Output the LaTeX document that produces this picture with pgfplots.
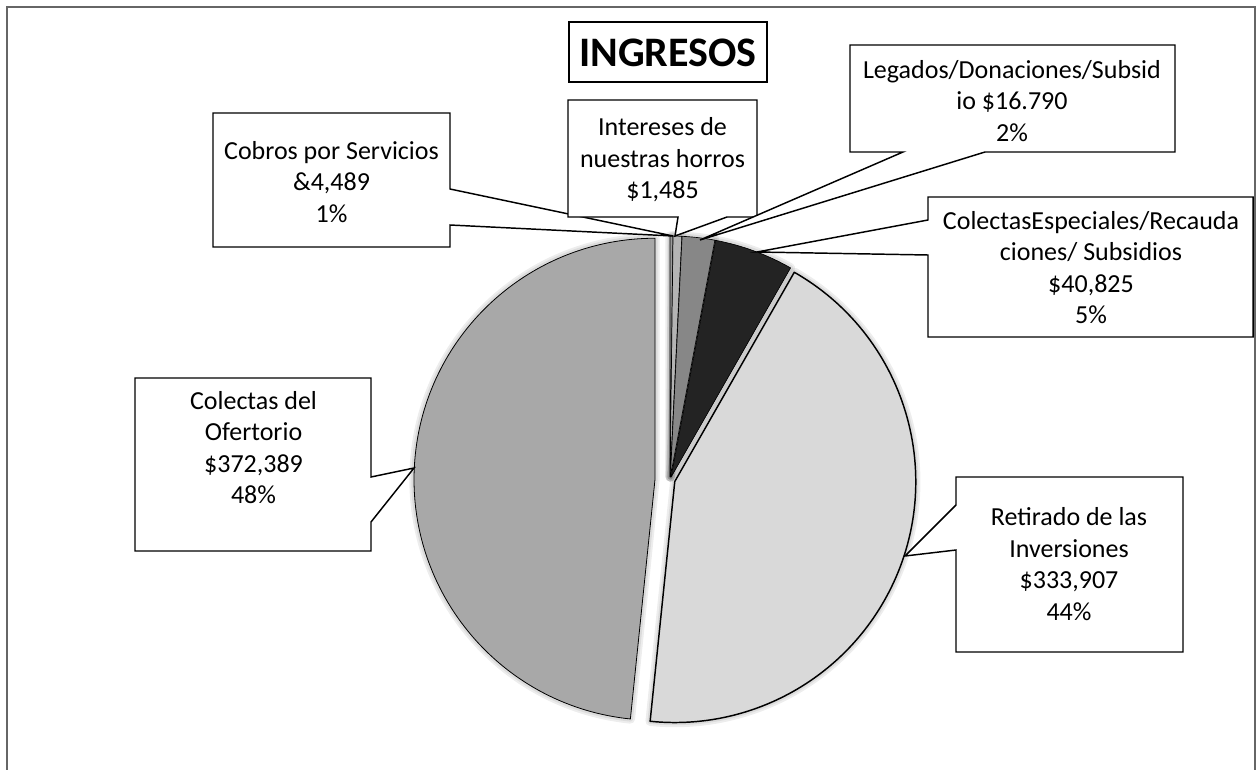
\documentclass[border=0pt]{standalone}
\usepackage{pgfplots}
\pgfplotsset{compat=1.18}
\usepackage{pgfplotstable}
\usepackage{fontspec}
\setmainfont{Carlito}

\pgfplotstableread{
name value
Intereses 1485
Cobros 4489
Legados 16790
Colectas 40825
Retirado 333907
Ofertorio 372389
}\ingresos

\definecolor{cInt}{HTML}{9A9A9A}
\definecolor{cCob}{HTML}{B4B4B4}
\definecolor{cLeg}{HTML}{878787}
\definecolor{cCol}{HTML}{232323}
\definecolor{cRet}{HTML}{D9D9D9}
\definecolor{cOfe}{HTML}{A8A8A8}
\definecolor{frame}{HTML}{666666}

\tikzset{
  lbl/.style={align=center, inner sep=0pt, font=\fontsize{19.5}{23.6}\selectfont},
  box/.style={fill=white, draw=black, line width=1.1pt, line join=miter}}

% #1 row index, #2 fill colour, #3 explosion (px), #4 line width
\newcommand\pieslice[4]{%
  \edef\temp{\noexpand\filldraw[fill=#2,draw=black,line width=#4,line join=round]
   (axis cs:670,480) ++(\fpeval{90-(\csname st#1\endcsname+\csname en#1\endcsname)/2}:\fpeval{#3*0.75}pt)
   -- ++(\fpeval{90-\csname st#1\endcsname}:180.75pt)
   arc[start angle=\fpeval{90-\csname st#1\endcsname}, end angle=\fpeval{90-\csname en#1\endcsname}, radius=180.75pt] -- cycle;}%
  \temp}
\newcommand\pieglow[2]{%
  \edef\temp{\noexpand\draw[draw=black,opacity=0.07,line width=#2,line join=round]
   (axis cs:670,480) ++(\fpeval{90-(\csname st#1\endcsname+\csname en#1\endcsname)/2}:\fpeval{\csname ex#1\endcsname*0.75}pt)
   -- ++(\fpeval{90-\csname st#1\endcsname}:180.75pt)
   arc[start angle=\fpeval{90-\csname st#1\endcsname}, end angle=\fpeval{90-\csname en#1\endcsname}, radius=180.75pt] -- cycle;}%
  \temp}

\begin{document}
\begin{tikzpicture}
\gdef\total{0}
\foreach \i in {0,...,5}{%
  \pgfplotstablegetelem{\i}{value}\of\ingresos
  \xdef\total{\fpeval{\total+\pgfplotsretval}}%
}
\gdef\cum{0}
\foreach \i in {0,...,5}{%
  \pgfplotstablegetelem{\i}{value}\of\ingresos
  \expandafter\xdef\csname st\i\endcsname{\fpeval{\cum*360/\total}}%
  \xdef\cum{\fpeval{\cum+\pgfplotsretval}}%
  \expandafter\xdef\csname en\i\endcsname{\fpeval{\cum*360/\total}}%
}
\expandafter\def\csname ex0\endcsname{3}
\expandafter\def\csname ex1\endcsname{3}
\expandafter\def\csname ex2\endcsname{3}
\expandafter\def\csname ex3\endcsname{3}
\expandafter\def\csname ex4\endcsname{5}
\expandafter\def\csname ex5\endcsname{15}
\begin{axis}[name=ax, x=0.75pt, y=0.75pt, y dir=reverse,
  xmin=0, xmax=1256, ymin=0, ymax=770, enlargelimits=false,
  hide axis, clip=false]
% frame
\draw[frame, line width=1.6pt] (axis cs:7,7) rectangle (axis cs:1255,800);
% glow
\pieglow{0}{7pt}\pieglow{1}{7pt}\pieglow{2}{7pt}\pieglow{3}{7pt}\pieglow{4}{7pt}\pieglow{5}{7pt}
\pieglow{0}{4pt}\pieglow{1}{4pt}\pieglow{2}{4pt}\pieglow{3}{4pt}\pieglow{4}{4pt}\pieglow{5}{4pt}
% slices
\pieslice{0}{cInt}{3}{0.5pt}
\pieslice{1}{cCob}{3}{0.5pt}
\pieslice{2}{cLeg}{3}{0.5pt}
\pieslice{3}{cCol}{3}{0.5pt}
\pieslice{4}{cRet}{5}{1.1pt}
\pieslice{5}{cOfe}{15}{0.6pt}
% title
\draw[line width=2.2pt, fill=white] (axis cs:569,22) rectangle (axis cs:767,82);
\node[inner sep=0pt, font=\fontsize{31.5}{36}\selectfont\bfseries] at (axis cs:668,53) {INGRESOS};
% callouts
\filldraw[box] (axis cs:213,113) -- (axis cs:450,113) -- (axis cs:450,189) -- (axis cs:673,236) -- (axis cs:450,225) -- (axis cs:450,247) -- (axis cs:213,247) -- cycle;
\node[lbl] at (axis cs:331.5,182) {Cobros por Servicios\\\&4,489\\1\%};
\filldraw[box] (axis cs:568,100) -- (axis cs:757,100) -- (axis cs:757,217) -- (axis cs:727,217) -- (axis cs:675,236) -- (axis cs:678,217) -- (axis cs:568,217) -- cycle;
\node[lbl] at (axis cs:662.5,160) {Intereses de\\nuestras horros\\\$1,485};
\filldraw[box] (axis cs:850,45) -- (axis cs:1175,45) -- (axis cs:1175,152) -- (axis cs:985,152) -- (axis cs:700,240) -- (axis cs:903,152) -- (axis cs:850,152) -- cycle;
\node[lbl] at (axis cs:1012,101) {Legados/Donaciones/Subsid\\io \$16.790\\2\%};
\filldraw[box] (axis cs:928,197) -- (axis cs:1253,197) -- (axis cs:1253,337) -- (axis cs:928,337) -- (axis cs:928,255) -- (axis cs:757,252) -- (axis cs:928,220) -- cycle;
\node[lbl] at (axis cs:1091,267.5) {ColectasEspeciales/Recauda\\ciones/ Subsidios\\\$40,825\\5\%};
\filldraw[box] (axis cs:956,477) -- (axis cs:1183,477) -- (axis cs:1183,652) -- (axis cs:956,652) -- (axis cs:956,550) -- (axis cs:905,556) -- (axis cs:956,505) -- cycle;
\node[lbl] at (axis cs:1069,564) {Retirado de las\\Inversiones\\\$333,907\\44\%};
\filldraw[box] (axis cs:135,378) -- (axis cs:371,378) -- (axis cs:371,477) -- (axis cs:414,468) -- (axis cs:371,522) -- (axis cs:371,551) -- (axis cs:135,551) -- cycle;
\node[lbl] at (axis cs:253.5,447.5) {Colectas del\\Ofertorio\\\$372,389\\48\%};
\end{axis}
\pgfresetboundingbox
\path[use as bounding box] (ax.south west) rectangle (ax.north east);
\end{tikzpicture}
\end{document}
